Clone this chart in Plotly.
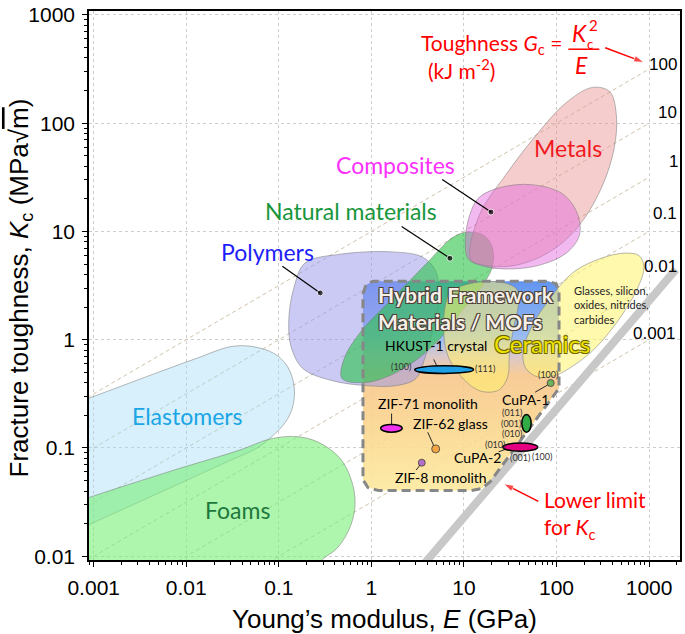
import numpy as np
import plotly.graph_objects as go

# ---------------- axes ----------------
X_RANGE = [-3.051, 3.334]          # log10(E / GPa)
Y_RANGE = [-2.035, 3.036]          # log10(Kc / MPa m^0.5)
E_TICKS = [0.001, 0.01, 0.1, 1, 10, 100, 1000]
E_TICKTEXT = ["0.001", "0.01", "0.1", "1", "10", "100", "1000"]
K_TICKS = [0.01, 0.1, 1, 10, 100, 1000]
K_TICKTEXT = ["0.01", "0.1", "1", "10", "100", "1000"]

# ---------------- material envelopes (log10 E, log10 Kc) ----------------
elastomers_logE = [-3.306, -3.0, -2.365, -1.894, -1.518, -1.282, -1.047, -0.906, -0.835, -0.849,
                   -0.929, -1.071, -1.235, -1.565, -2.129, -3.0, -3.306]
elastomers_logK = [-0.619, -0.524, -0.321, -0.174, -0.064, -0.064, -0.130, -0.248, -0.432, -0.615,
                   -0.763, -0.891, -1.001, -1.130, -1.351, -1.689, -1.810]

foams_logE = [-3.306, -3.0, -2.129, -1.424, -1.094, -0.812, -0.576, -0.341, -0.224, -0.176,
              -0.224, -0.365, -0.553, -0.718, -3.306]
foams_logK = [-1.535, -1.443, -1.204, -1.020, -0.917, -0.895, -0.946, -1.093, -1.277, -1.498,
              -1.718, -1.921, -2.049, -2.270, -2.270]

polymers_logE = [-0.835, -0.718, -0.341, 0.224, 0.553, 0.694, 0.732, 0.671, 0.576, 0.482,
                 0.271, -0.059, -0.435, -0.741, -0.868, -0.892, -0.835]
polymers_logK = [0.487, 0.708, 0.789, 0.811, 0.763, 0.635, 0.414, 0.120, -0.174, -0.358,
                 -0.424, -0.424, -0.376, -0.266, -0.064, 0.193, 0.487]

natural_logE = [-0.318, -0.294, -0.106, 0.224, 0.600, 0.882, 1.047, 1.212, 1.306, 1.306,
                1.188, 0.976, 0.741, 0.506, 0.224, -0.059, -0.318]
natural_logK = [-0.358, -0.174, 0.083, 0.377, 0.708, 0.947, 0.995, 0.965, 0.855, 0.671,
                0.487, 0.267, 0.010, -0.174, -0.321, -0.395, -0.358]

metals_logE = [1.071, 1.165, 1.447, 1.776, 2.106, 2.388, 2.576, 2.647, 2.624, 2.506,
               2.294, 2.059, 1.776, 1.494, 1.212, 1.071]
metals_logK = [0.745, 1.149, 1.517, 1.885, 2.190, 2.330, 2.290, 2.068, 1.774, 1.443,
               1.112, 0.892, 0.745, 0.679, 0.690, 0.745]

composites_logE = [1.014, 1.061, 1.165, 1.400, 1.729, 2.059, 2.224, 2.247, 2.106, 1.824,
                   1.494, 1.212, 1.047, 1.014]
composites_logK = [0.892, 1.149, 1.315, 1.407, 1.432, 1.351, 1.168, 0.965, 0.800, 0.690,
                   0.653, 0.679, 0.745, 0.892]

glasses_logE = [1.930, 1.750, 1.640, 1.665, 1.800, 1.988, 2.200, 2.435, 2.694, 2.882,
                2.944, 2.896, 2.741, 2.482, 2.200, 2.040, 1.930]
glasses_logK = [0.380, 0.150, -0.101, -0.260, -0.345, -0.330, -0.230, -0.064, 0.212, 0.487,
                0.671, 0.774, 0.800, 0.752, 0.635, 0.500, 0.380]

ceramics_logE = [0.803, 0.781, 0.835, 0.997, 1.180, 1.374, 1.471, 1.492, 1.535, 1.589,
                 1.567, 1.374, 1.050, 0.857, 0.803]
ceramics_logK = [0.334, 0.061, -0.166, -0.366, -0.475, -0.466, -0.348, -0.121, 0.106, 0.334,
                 0.470, 0.534, 0.515, 0.443, 0.334]

mof_box_logE = [-0.091, -0.059, 0.016, 1.912, 1.998, 2.027, 2.027, 1.284, 1.190, 1.072,
                0.081, -0.038, -0.091, -0.091]
mof_box_logK = [0.425, 0.506, 0.540, 0.540, 0.515, 0.443, -0.448, -1.312, -1.375, -1.394,
                -1.394, -1.366, -1.294, 0.425]

# toughness contours G = Kc^2 / E (kJ m^-2)
G_values = [100, 10, 1, 0.1, 0.01, 0.001]
G_labels = ["100", "10", "1", "0.1", "0.01", "0.001"]
G_label_logE = [3.155, 3.202, 3.259, 3.174, 3.118, 3.061]
G_label_logK = [2.539, 2.098, 1.646, 1.168, 0.679, 0.054]
G_line_E = [10 ** -3.2, 1000.0]

# lower limit for Kc
lowlim_E = [2.0, 1950.0]
lowlim_K = [0.00458, 4.47]

# MOF data (E in GPa, Kc in MPa m^0.5)
hkust_E = [2.94, 12.7]; hkust_K = [0.488, 0.573]
zif71_E = [1.26, 2.15]; zif71_K = [0.140, 0.165]
cupa1_ell_E = [42.2, 53.2]; cupa1_ell_K = [0.140, 0.204]
cupa2_E = [26.3, 62.7]; cupa2_K = [0.0933, 0.111]
dots_E = [4.95, 3.50, 86.5]          # ZIF-62 glass, ZIF-8 monolith, CuPA-1 (100)
dots_K = [0.098, 0.0731, 0.398]
dots_color = ["rgb(240,140,30)", "rgb(150,60,220)", "rgb(50,170,70)"]

AX_FONT = "'Liberation Sans', Arial, sans-serif"
LB_FONT = "Lato, 'Open Sans', sans-serif"

fig = go.Figure()

# toughness guide lines
for G in G_values:
    E = np.array(G_line_E)
    fig.add_trace(go.Scatter(x=E, y=np.sqrt(G * E), mode="lines",
                             line=dict(color="rgb(208,195,172)", width=1, dash="4px,3px"),
                             hoverinfo="skip", showlegend=False))

# MOF gradient box
fig.add_trace(go.Scatter(
    x=10 ** np.array(mof_box_logE), y=10 ** np.array(mof_box_logK), mode="lines",
    line=dict(width=0), fill="toself",
    fillgradient=dict(type="vertical", colorscale=[
        [0.0, "rgba(253,233,158,0.9)"], [0.3, "rgba(250,214,142,0.9)"],
        [0.55, "rgba(247,198,140,0.9)"], [0.64, "rgba(215,195,195,0.9)"],
        [0.74, "rgba(140,180,240,0.9)"], [1.0, "rgba(85,140,240,0.92)"]]),
    hoverinfo="skip", showlegend=False))

regions = [
    (elastomers_logE, elastomers_logK, "rgba(160,220,245,0.42)"),
    (foams_logE, foams_logK, "rgba(120,238,120,0.6)"),
    (polymers_logE, polymers_logK, "rgba(150,150,235,0.5)"),
    (natural_logE, natural_logK, "rgba(40,195,70,0.6)"),
    (metals_logE, metals_logK, "rgba(235,145,145,0.45)"),
    (composites_logE, composites_logK, "rgba(225,100,220,0.45)"),
    (glasses_logE, glasses_logK, "rgba(255,245,120,0.6)"),
    (ceramics_logE, ceramics_logK, "rgba(255,240,110,0.55)"),
]
for lx, ly, col in regions:
    fig.add_trace(go.Scatter(
        x=10 ** np.array(lx), y=10 ** np.array(ly), mode="lines",
        line=dict(color="rgba(120,120,120,0.65)", width=0.8, shape="spline", smoothing=1.0),
        fill="toself", fillcolor=col, hoverinfo="skip", showlegend=False))

# lower limit band
fig.add_trace(go.Scatter(x=lowlim_E, y=lowlim_K, mode="lines",
                         line=dict(color="rgb(200,200,200)", width=8),
                         hoverinfo="skip", showlegend=False))

# MOF dashed outline
fig.add_trace(go.Scatter(
    x=10 ** np.array(mof_box_logE), y=10 ** np.array(mof_box_logK), mode="lines",
    line=dict(color="rgb(135,135,135)", width=3, dash="9px,5px"),
    hoverinfo="skip", showlegend=False))

# leader lines with dot (class labels)
leaders_dot = [
    ([0.765, 1.292], [1.480, 1.179]),
    ([0.327, 0.849], [1.046, 0.752]),
    ([-0.962, -0.553], [0.679, 0.432]),
]
for lx, ly in leaders_dot:
    fig.add_trace(go.Scatter(x=10 ** np.array(lx), y=10 ** np.array(ly), mode="lines+markers",
                             line=dict(color="black", width=1.2),
                             marker=dict(size=[0, 6], color="black"),
                             hoverinfo="skip", showlegend=False))

# leader lines for MOF entries
leaders = [
    ([0.727, 0.673], [-0.277, -0.182]),
    ([0.218, 0.218], [-0.787, -0.682]),
    ([0.673, 0.609], [-0.978, -0.855]),
    ([0.526, 0.483], [-1.157, -1.205]),
    ([1.905, 1.769], [-0.418, -0.485]),
    ([1.374, 1.517], [-1.036, -0.991]),
]
for lx, ly in leaders:
    fig.add_trace(go.Scatter(x=10 ** np.array(lx), y=10 ** np.array(ly), mode="lines",
                             line=dict(color="rgb(40,40,40)", width=1),
                             hoverinfo="skip", showlegend=False))

fig.add_trace(go.Scatter(x=dots_E, y=dots_K, mode="markers",
                         marker=dict(size=[8, 7, 7], color=dots_color,
                                     line=dict(color="rgb(30,30,30)", width=1)),
                         hoverinfo="skip", showlegend=False))

# red arrows (tail -> head)
red_arrows = [([2.526, 2.946], [2.697, 2.561]), ([1.804, 1.427], [-1.494, -1.330])]
for lx, ly in red_arrows:
    fig.add_trace(go.Scatter(x=10 ** np.array(lx), y=10 ** np.array(ly), mode="lines+markers",
                             line=dict(color="red", width=1.5),
                             marker=dict(symbol="arrow", angleref="previous", size=[0, 11],
                                         color="red"),
                             hoverinfo="skip", showlegend=False))

# ellipses for MOF crystals
shapes = []
for (ex, ky, col) in [(hkust_E, hkust_K, "rgb(30,160,230)"),
                      (zif71_E, zif71_K, "rgb(240,50,240)"),
                      (cupa1_ell_E, cupa1_ell_K, "rgb(50,170,70)"),
                      (cupa2_E, cupa2_K, "rgb(228,0,128)")]:
    shapes.append(dict(type="circle", xref="x", yref="y", x0=ex[0], x1=ex[1], y0=ky[0], y1=ky[1],
                       fillcolor=col, line=dict(color="black", width=1.5), layer="above"))
shapes.append(dict(type="line", xref="x", yref="y", x0=10 ** 2.128, x1=10 ** 2.462,
                   y0=10 ** 2.683, y1=10 ** 2.683, line=dict(color="red", width=1.5)))

ann = []
def txt(t, lx, ly, size, color, family=LB_FONT, xa="center", ya="middle", align="center", **kw):
    ann.append(dict(text=t, x=lx, y=ly, xref="x", yref="y", showarrow=False,
                    font=dict(size=size, color=color, family=family, **kw),
                    xanchor=xa, yanchor=ya, align=align))

txt("Metals", 2.129, 1.767, 23, "rgb(240,25,30)")
txt("Composites", 0.261, 1.609, 23, "rgb(250,50,250)")
txt("Natural materials", -0.224, 1.186, 23, "rgb(25,150,60)")
txt("Polymers", -1.118, 0.807, 23, "rgb(30,30,250)")
txt("Elastomers", -1.988, -0.707, 23, "rgb(25,165,230)")
txt("Foams", -1.447, -1.571, 23, "rgb(30,120,60)")
txt("Ceramics", 1.848, -0.039, 24, "rgb(238,226,0)",
    shadow="0.7px 0.7px 0 #6b6200, -0.7px -0.7px 0 #6b6200, 0.7px -0.7px 0 #6b6200, -0.7px 0.7px 0 #6b6200")
txt("<b>Hybrid Framework<br>Materials / MOFs</b>", 0.045, 0.296, 21, "rgb(245,240,232)",
    xa="left", align="left",
    shadow="1px 1px 0 #4e4038, -1px -1px 0 #4e4038, 1px -1px 0 #4e4038, -1px 1px 0 #4e4038")
txt("Glasses, silicon,<br>oxides, nitrides,<br>carbides", 2.167, 0.535, 11, "rgb(30,30,30)",
    xa="left", ya="top", align="left")

txt("HKUST-1 crystal", 0.698, -0.055, 14, "black")
txt("ZIF-71 monolith", 0.612, -0.585, 14, "black")
txt("ZIF-62 glass", 0.857, -0.773, 14, "black")
txt("ZIF-8 monolith", 0.749, -1.273, 14, "black")
txt("CuPA-1", 1.661, -0.548, 14, "black")
txt("CuPA-2", 1.151, -1.085, 14, "black")
small = [("(100)", 0.325, -0.248), ("(111)", 1.230, -0.266), ("(100)", 1.912, -0.324),
         ("(011)", 1.524, -0.673), ("(001)", 1.510, -0.778), ("(010)", 1.524, -0.866),
         ("(010)", 1.330, -0.964), ("(001)", 1.607, -1.085), ("(100)", 1.840, -1.075)]
for t, lx, ly in small:
    txt(t, lx, ly, 9, "rgb(50,50,50)")

for t, lx, ly in zip(G_labels, G_label_logE, G_label_logK):
    txt(t, lx, ly, 17, "black", family=AX_FONT)

txt("Toughness <i>G</i><sub>c</sub> =", 2.085, 2.734, 21, "red", xa="right")
txt("(kJ m<sup>-2</sup>)", 0.587, 2.50, 21, "red", xa="left")
txt("<i>K</i>", 2.246, 2.834, 23, "red")
txt("2", 2.397, 2.906, 15, "red")
txt("c", 2.365, 2.734, 13, "red")
txt("<i>E</i>", 2.268, 2.534, 23, "red")
txt("Lower limit<br>for <i>K</i><sub>c</sub>", 1.848, -1.621, 21, "red", xa="left", align="left")

# y-axis title
ann.append(dict(text="Fracture toughness, <i>K</i><sub>c</sub> (MPa√<span style='text-decoration:overline'>m</span>)",
                x=-0.1164, y=0.495, xref="paper", yref="paper", showarrow=False, textangle=-90,
                xanchor="center", yanchor="middle",
                font=dict(family=AX_FONT, size=26, color="black")))

fig.update_layout(
    width=685, height=634,
    margin=dict(l=89, r=3, t=3, b=74),
    plot_bgcolor="white", paper_bgcolor="white",
    shapes=shapes, annotations=ann, showlegend=False,
    xaxis=dict(type="log", range=X_RANGE, tickvals=E_TICKS, ticktext=E_TICKTEXT,
               showline=True, linecolor="black", linewidth=1.5, mirror=True,
               ticks="outside", ticklen=5, tickcolor="black",
               minor=dict(ticks="outside", ticklen=3, dtick="D1", tickcolor="black", showgrid=False),
               showgrid=True, gridcolor="rgb(205,205,205)", griddash="dot", gridwidth=1,
               zeroline=False, tickfont=dict(family=AX_FONT, size=21, color="black"),
               ticklabelstandoff=3, ticklabeloverflow="allow",
               title=dict(text="Young’s modulus, <i>E</i> (GPa)", standoff=14,
                          font=dict(family=AX_FONT, size=26, color="black"))),
    yaxis=dict(type="log", range=Y_RANGE, tickvals=K_TICKS, ticktext=K_TICKTEXT,
               showline=True, linecolor="black", linewidth=1.5, mirror=True,
               ticks="outside", ticklen=5, tickcolor="black",
               minor=dict(ticks="outside", ticklen=3, dtick="D1", tickcolor="black", showgrid=False),
               showgrid=True, gridcolor="rgb(205,205,205)", griddash="dot", gridwidth=1,
               zeroline=False, tickfont=dict(family=AX_FONT, size=21, color="black"),
               ticklabelstandoff=3, ticklabeloverflow="allow"),
)

fig.write_html("out.html", config={"displayModeBar": False},
               post_script="document.body.style.margin='0';document.body.style.overflow='hidden';")
